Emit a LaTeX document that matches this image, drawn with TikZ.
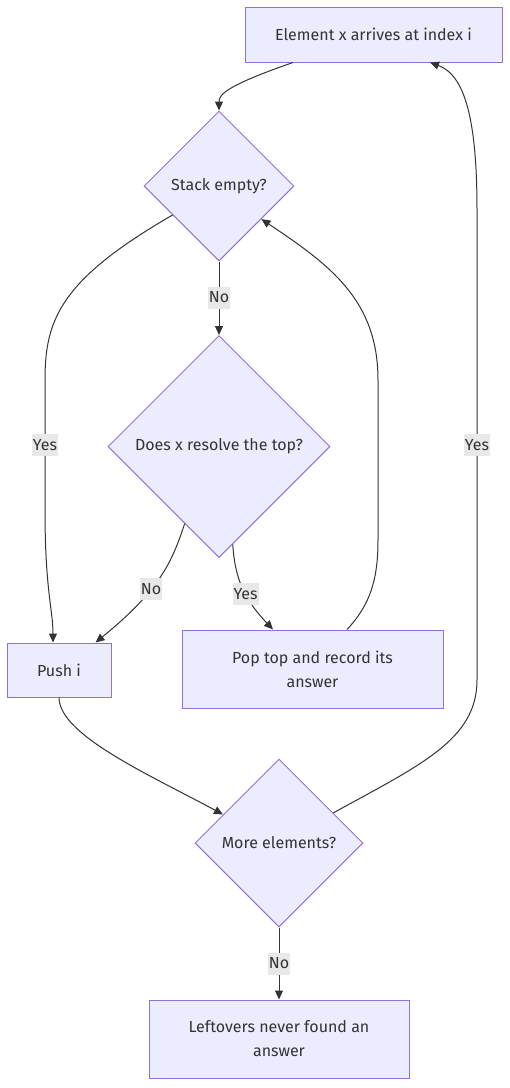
\documentclass[tikz,border=0pt]{standalone}
\usepackage{fontspec}
\setmainfont{Fira Sans}
\usetikzlibrary{shapes.geometric,arrows.meta,calc}
\definecolor{nodefill}{HTML}{ECECFF}
\definecolor{nodeline}{HTML}{9370DB}
\definecolor{txt}{HTML}{333333}
\definecolor{lblbg}{HTML}{E8E8E8}
\tikzset{
  boxnode/.style={draw=nodeline,fill=nodefill,line width=1pt,text=txt,font=\fontsize{16}{24}\selectfont,align=center,inner sep=0pt},
  dianode/.style={draw=nodeline,fill=nodefill,line width=1pt,text=txt,font=\fontsize{16}{24}\selectfont,shape=diamond,aspect=1,inner sep=0pt},
  conn/.style={draw=txt,line width=1pt,-{Triangle[length=9pt,width=8pt]}},
  lbl/.style={fill=lblbg,text=txt,font=\fontsize{16}{20}\selectfont,inner xsep=1pt,inner ysep=0pt,minimum height=22pt}
}
\begin{document}
\begin{tikzpicture}[x=1pt,y=-1pt]
\useasboundingbox (0,0) rectangle (510,1088);
% nodes
\node[boxnode,minimum width=257pt,minimum height=55pt] (A) at (373.5,34.5) {Element x arrives at index i};
\node[dianode,minimum width=150pt,minimum height=150pt] (S) at (219,186) {Stack empty?};
\node[dianode,minimum width=222pt,minimum height=222pt] (D) at (219,446.5) {Does x resolve the top?};
\node[boxnode,minimum width=104pt,minimum height=54pt] (P) at (59,670) {Push i};
\node[boxnode,minimum width=261pt,minimum height=78pt] (R) at (312.5,669) {Pop top and record its\\answer};
\node[boxnode,minimum width=260pt,minimum height=78pt] (L) at (279,1039) {Leftovers never found an\\answer};
\node[dianode,minimum width=168pt,minimum height=168pt] (M) at (279,843) {More elements?};
% connectors
\draw[conn] ($(A.south)+(-80.5,0)$) .. controls (225,86) and (219,95) .. (S.north);
\draw[conn] (S.212) .. controls (60,280) and (45,320) .. (45,380) -- node[lbl]{Yes} (45,510) .. controls (45,590) and (53,610) .. ($(P.north)+(-6,0)$);
\draw[conn] (S.south) -- node[lbl,pos=0.49]{No} (D.north);
\draw[conn] (D.246) .. controls (172,562) and (160,590) .. node[lbl,pos=0.6]{No} ($(P.north east)+(-16,0)$);
\draw[conn] (D.278) .. controls (235,580) and (245,600) .. node[lbl,pos=0.56]{Yes} ($(R.north)+(-39.5,0)$);
\draw[conn] ($(R.north)+(34.5,0)$) .. controls (370,605) and (378,580) .. (378,540) -- (378,380) .. controls (378,300) and (330,265) .. (S.322);
\draw[conn] (P.south) .. controls (59,735) and (150,775) .. (M.153);
\draw[conn] (M.29) .. controls (420,765) and (477,740) .. (477,680) -- node[lbl]{Yes} (477,210) .. controls (477,120) and (465,75) .. ($(A.south)+(56.5,0)$);
\draw[conn] (M.south) -- node[lbl,pos=0.5]{No} (L.north);
\end{tikzpicture}
\end{document}
